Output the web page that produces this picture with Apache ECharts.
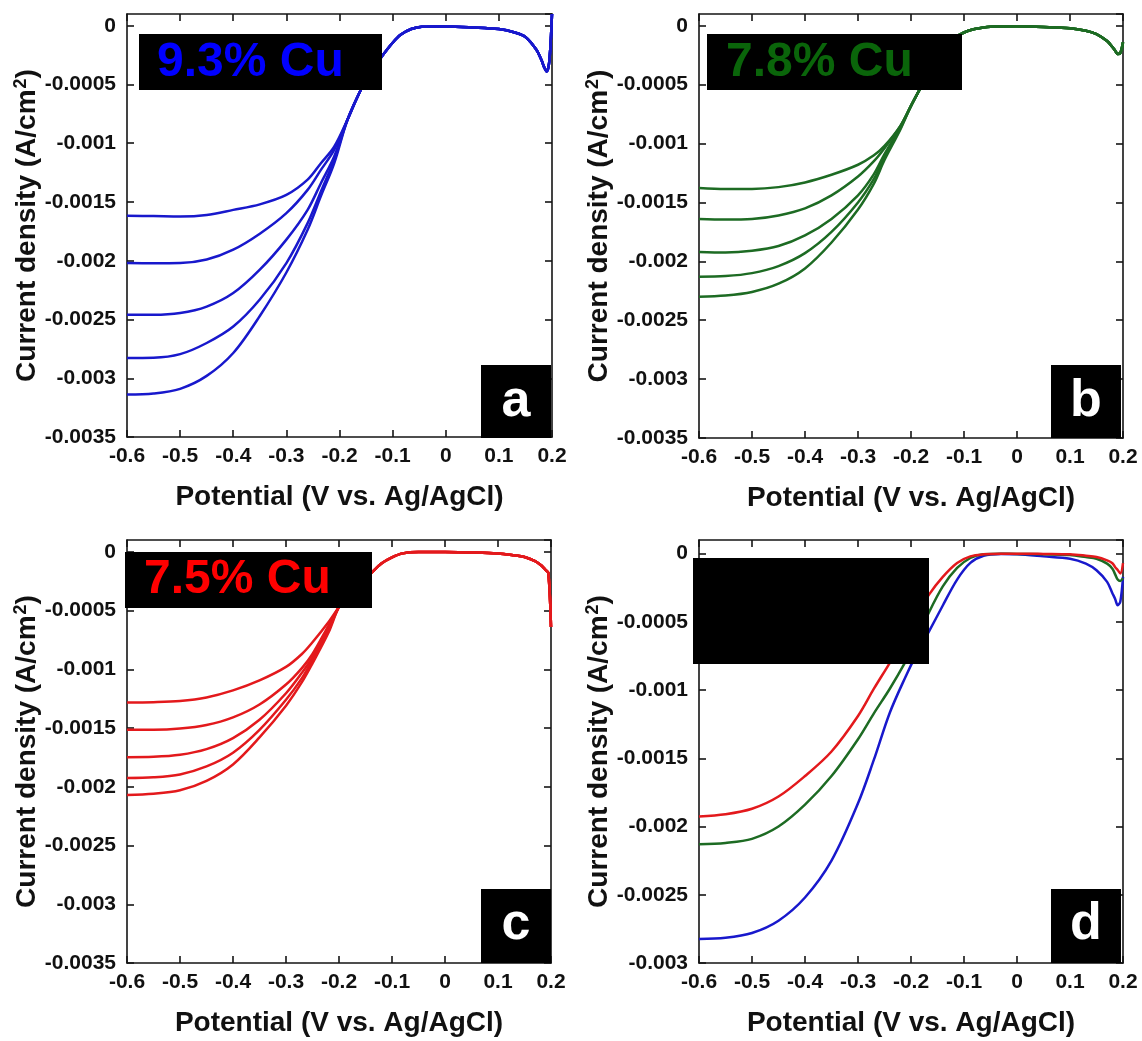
<!DOCTYPE html>
<html>
<head>
<meta charset="utf-8">
<script src="https://cdn.jsdelivr.net/npm/echarts@6/dist/echarts.min.js"></script>
<style>
  html, body { margin: 0; padding: 0; background: #ffffff; }
  #chart { width: 1142px; height: 1041px; }
</style>
</head>
<body>
<div id="chart"></div>
<script>
// ---- Data (current density in mA/cm^2, converted to A/cm^2 when plotted) ----
const xTicks = [-0.6, -0.5, -0.4, -0.3, -0.2, -0.1, 0, 0.1, 0.2];
const panelLetters = ['a', 'b', 'c', 'd'];
const panelLabels = ['9.3% Cu', '7.8% Cu', '7.5% Cu', ''];

// Panel a (9.3% Cu)
const potA = [-0.6, -0.55, -0.5, -0.45, -0.4, -0.35, -0.3, -0.26, -0.235, -0.21, -0.185, -0.16, -0.14, -0.12, -0.1, -0.085, -0.065, -0.045, 0, 0.05, 0.1, 0.13, 0.15, 0.17, 0.18, 0.185, 0.19, 0.195, 0.2];
const a1 = [-1.618, -1.62, -1.623, -1.61, -1.567, -1.52, -1.44, -1.31, -1.17, -1.03, -0.8, -0.547, -0.39, -0.26, -0.145, -0.077, -0.028, -0.008, -0.006, -0.014, -0.028, -0.057, -0.095, -0.2, -0.29, -0.35, -0.39, -0.3, 0.1];
const a2 = [-2.02, -2.022, -2.02, -1.99, -1.906, -1.77, -1.595, -1.397, -1.227, -1.057, -0.8, -0.547, -0.39, -0.26, -0.145, -0.077, -0.028, -0.008, -0.006, -0.014, -0.028, -0.057, -0.095, -0.2, -0.29, -0.35, -0.39, -0.3, 0.1];
const a3 = [-2.46, -2.46, -2.445, -2.39, -2.275, -2.076, -1.82, -1.567, -1.34, -1.113, -0.8, -0.547, -0.39, -0.26, -0.145, -0.077, -0.028, -0.008, -0.006, -0.014, -0.028, -0.057, -0.095, -0.2, -0.29, -0.35, -0.39, -0.3, 0.1];
const a4 = [-2.827, -2.825, -2.795, -2.7, -2.56, -2.33, -2.02, -1.68, -1.41, -1.14, -0.8, -0.547, -0.39, -0.26, -0.145, -0.077, -0.028, -0.008, -0.006, -0.014, -0.028, -0.057, -0.095, -0.2, -0.29, -0.35, -0.39, -0.3, 0.1];
const a5 = [-3.139, -3.13, -3.09, -2.98, -2.785, -2.47, -2.1, -1.737, -1.45, -1.17, -0.8, -0.547, -0.39, -0.26, -0.145, -0.077, -0.028, -0.008, -0.006, -0.014, -0.028, -0.057, -0.095, -0.2, -0.29, -0.35, -0.39, -0.3, 0.1];

// Panel b (7.8% Cu)
const potB = [-0.6, -0.55, -0.5, -0.45, -0.4, -0.35, -0.3, -0.27, -0.25, -0.22, -0.2, -0.18, -0.16, -0.14, -0.12, -0.1, -0.08, -0.05, 0, 0.05, 0.1, 0.13, 0.15, 0.17, 0.18, 0.185, 0.19, 0.195, 0.2];
const b1 = [-1.377, -1.385, -1.385, -1.37, -1.33, -1.265, -1.18, -1.10, -1.02, -0.85, -0.68, -0.51, -0.34, -0.21, -0.11, -0.057, -0.028, -0.008, -0.005, -0.01, -0.02, -0.042, -0.07, -0.13, -0.18, -0.21, -0.24, -0.23, -0.14];
const b2 = [-1.64, -1.645, -1.64, -1.61, -1.55, -1.44, -1.28, -1.15, -1.04, -0.85, -0.68, -0.51, -0.34, -0.21, -0.11, -0.057, -0.028, -0.008, -0.005, -0.01, -0.02, -0.042, -0.07, -0.13, -0.18, -0.21, -0.24, -0.23, -0.14];
const b3 = [-1.92, -1.925, -1.91, -1.87, -1.78, -1.64, -1.44, -1.26, -1.09, -0.86, -0.68, -0.51, -0.34, -0.21, -0.11, -0.057, -0.028, -0.008, -0.005, -0.01, -0.02, -0.042, -0.07, -0.13, -0.18, -0.21, -0.24, -0.23, -0.14];
const b4 = [-2.13, -2.125, -2.1, -2.04, -1.93, -1.75, -1.5, -1.3, -1.12, -0.87, -0.68, -0.51, -0.34, -0.21, -0.11, -0.057, -0.028, -0.008, -0.005, -0.01, -0.02, -0.042, -0.07, -0.13, -0.18, -0.21, -0.24, -0.23, -0.14];
const b5 = [-2.30, -2.29, -2.26, -2.19, -2.06, -1.84, -1.56, -1.34, -1.14, -0.88, -0.68, -0.51, -0.34, -0.21, -0.11, -0.057, -0.028, -0.008, -0.005, -0.01, -0.02, -0.042, -0.07, -0.13, -0.18, -0.21, -0.24, -0.23, -0.14];

// Panel c (7.5% Cu)
const potC = [-0.6, -0.55, -0.5, -0.45, -0.4, -0.35, -0.3, -0.27, -0.25, -0.22, -0.2, -0.18, -0.16, -0.14, -0.12, -0.1, -0.08, -0.05, 0, 0.05, 0.1, 0.13, 0.15, 0.17, 0.18, 0.185, 0.19, 0.195, 0.2];
const c1 = [-1.283, -1.28, -1.27, -1.24, -1.18, -1.095, -0.98, -0.87, -0.77, -0.6, -0.47, -0.35, -0.255, -0.184, -0.1, -0.048, -0.014, -0.003, -0.003, -0.006, -0.014, -0.03, -0.045, -0.08, -0.11, -0.13, -0.156, -0.18, -0.64];
const c2 = [-1.515, -1.515, -1.505, -1.475, -1.41, -1.30, -1.13, -0.99, -0.87, -0.63, -0.47, -0.35, -0.255, -0.184, -0.1, -0.048, -0.014, -0.003, -0.003, -0.006, -0.014, -0.03, -0.045, -0.08, -0.11, -0.13, -0.156, -0.18, -0.64];
const c3 = [-1.748, -1.745, -1.728, -1.68, -1.586, -1.43, -1.204, -1.03, -0.9, -0.65, -0.47, -0.35, -0.255, -0.184, -0.1, -0.048, -0.014, -0.003, -0.003, -0.006, -0.014, -0.03, -0.045, -0.08, -0.11, -0.13, -0.156, -0.18, -0.64];
const c4 = [-1.926, -1.92, -1.895, -1.827, -1.71, -1.516, -1.26, -1.076, -0.92, -0.67, -0.47, -0.35, -0.255, -0.184, -0.1, -0.048, -0.014, -0.003, -0.003, -0.006, -0.014, -0.03, -0.045, -0.08, -0.11, -0.13, -0.156, -0.18, -0.64];
const c5 = [-2.07, -2.06, -2.03, -1.95, -1.81, -1.58, -1.31, -1.11, -0.95, -0.69, -0.47, -0.35, -0.255, -0.184, -0.1, -0.048, -0.014, -0.003, -0.003, -0.006, -0.014, -0.03, -0.045, -0.08, -0.11, -0.13, -0.156, -0.18, -0.64];

// Panel d (comparison)
const potD = [-0.6, -0.55, -0.5, -0.45, -0.4, -0.35, -0.3, -0.27, -0.24, -0.21, -0.19, -0.166, -0.14, -0.113, -0.088, -0.063, -0.03, 0, 0.05, 0.1, 0.13, 0.15, 0.17, 0.18, 0.185, 0.19, 0.195, 0.2];
const dRed = [-1.927, -1.91, -1.87, -1.78, -1.63, -1.45, -1.19, -0.99, -0.8, -0.6, -0.46, -0.3, -0.17, -0.068, -0.02, -0.005, 0, 0, -0.002, -0.005, -0.015, -0.024, -0.049, -0.07, -0.098, -0.12, -0.146, -0.07];
const dGreen = [-2.13, -2.12, -2.09, -2.0, -1.84, -1.63, -1.36, -1.17, -0.99, -0.79, -0.64, -0.43, -0.24, -0.105, -0.032, -0.005, -0.001, -0.002, -0.005, -0.01, -0.025, -0.037, -0.073, -0.11, -0.15, -0.19, -0.2, -0.18];
const dBlue = [-2.824, -2.815, -2.78, -2.69, -2.52, -2.25, -1.83, -1.51, -1.166, -0.9, -0.74, -0.57, -0.38, -0.19, -0.068, -0.015, -0.003, -0.005, -0.02, -0.037, -0.073, -0.122, -0.207, -0.29, -0.33, -0.378, -0.35, -0.17];

// y-axis ranges (A/cm^2)
const yMinABC = -0.0035;
const yMinD = -0.003;
const yMax = 0.0001;
const yStep = 0.0005;

// ---- Styling / layout ----
const FONT = "'Liberation Sans', Arial, Helvetica, sans-serif";
const BLUE = '#1818cc', GREEN = '#1d6b23', RED = '#e3191c';
const TXT_BLUE = '#0000ff', TXT_GREEN = '#0a650a', TXT_RED = '#ff0000';
const grids = [
  { left: 127, top: 14, width: 425, height: 423 },
  { left: 699, top: 14, width: 424, height: 424 },
  { left: 127, top: 540, width: 424, height: 423 },
  { left: 699, top: 540, width: 424, height: 423 }
];

const toA = v => v * 1e-3;
const pairs = (pot, cur) => pot.map((p, i) => [p, toA(cur[i])]);

const axisLineStyle = { color: '#151515', width: 1.6 };
const xAxes = [], yAxes = [];
grids.forEach((g, i) => {
  const yMin = i === 3 ? yMinD : yMinABC;
  const common = {
    gridIndex: i, type: 'value',
    splitLine: { show: false },
    axisLine: { show: true, onZero: false, lineStyle: axisLineStyle },
    axisTick: { show: true, inside: true, length: 7, lineStyle: axisLineStyle }
  };
  xAxes.push(Object.assign({}, common, {
    position: 'bottom', min: -0.6, max: 0.2, interval: 0.1,
    axisLabel: { show: true, margin: 9, color: '#111', fontSize: 21, fontWeight: 'bold', fontFamily: FONT,
      formatter: v => String(+(+v).toFixed(1)) },
    name: 'Potential (V vs. Ag/AgCl)', nameLocation: 'middle', nameGap: 46,
    nameTextStyle: { color: '#111', fontSize: 28, fontWeight: 'bold', fontFamily: FONT }
  }));
  xAxes.push(Object.assign({}, common, {
    position: 'top', min: -0.6, max: 0.2, interval: 0.1, axisLabel: { show: false }
  }));
  yAxes.push(Object.assign({}, common, {
    position: 'left', min: yMin, max: yMax, interval: yStep,
    axisLabel: { show: true, margin: 11, color: '#111', fontSize: 21, fontWeight: 'bold', fontFamily: FONT,
      showMaxLabel: false, formatter: v => String(+(+v).toFixed(4)) },
    name: 'Current density (A/cm{sup|2})', nameLocation: 'middle', nameGap: 84,
    nameTextStyle: { color: '#111', fontSize: 28, fontWeight: 'bold', fontFamily: FONT,
      rich: { sup: { fontSize: 18, fontWeight: 'bold', fontFamily: FONT, color: '#111', verticalAlign: 'top', padding: [0, 0, 12, 1] } } }
  }));
  yAxes.push(Object.assign({}, common, {
    position: 'right', min: yMin, max: yMax, interval: yStep, axisLabel: { show: false }
  }));
});

function lineSeries(gi, pot, cur, color) {
  return {
    type: 'line', xAxisIndex: gi * 2, yAxisIndex: gi * 2,
    data: pairs(pot, cur), showSymbol: false, symbol: 'none',
    smooth: 0.33,
    lineStyle: { color: color, width: 2.5 }, z: 2, silent: true
  };
}

const series = [
  lineSeries(0, potA, a1, BLUE), lineSeries(0, potA, a2, BLUE), lineSeries(0, potA, a3, BLUE),
  lineSeries(0, potA, a4, BLUE), lineSeries(0, potA, a5, BLUE),
  lineSeries(1, potB, b1, GREEN), lineSeries(1, potB, b2, GREEN), lineSeries(1, potB, b3, GREEN),
  lineSeries(1, potB, b4, GREEN), lineSeries(1, potB, b5, GREEN),
  lineSeries(2, potC, c1, RED), lineSeries(2, potC, c2, RED), lineSeries(2, potC, c3, RED),
  lineSeries(2, potC, c4, RED), lineSeries(2, potC, c5, RED),
  lineSeries(3, potD, dBlue, BLUE), lineSeries(3, potD, dGreen, GREEN), lineSeries(3, potD, dRed, RED)
];

// annotation boxes (black) with labels
const labelBoxes = [
  { x: 139, y: 34, w: 243, h: 56, tx: 157, ty: 63, color: TXT_BLUE },
  { x: 707, y: 34, w: 255, h: 56, tx: 726, ty: 63, color: TXT_GREEN },
  { x: 125, y: 552, w: 247, h: 56, tx: 144, ty: 580, color: TXT_RED },
  { x: 693, y: 558, w: 236, h: 106, tx: 0, ty: 0, color: '#000' }
];
const letterBoxes = [
  { x: 481, y: 365, w: 70, h: 73, ty: 402 },
  { x: 1051, y: 365, w: 70, h: 73, ty: 402 },
  { x: 481, y: 889, w: 70, h: 74, ty: 925 },
  { x: 1051, y: 889, w: 70, h: 74, ty: 925 }
];

const graphic = [];
labelBoxes.forEach((b, i) => {
  graphic.push({ type: 'rect', shape: { x: b.x, y: b.y, width: b.w, height: b.h }, style: { fill: '#000' }, z: 100, silent: true });
  if (panelLabels[i]) {
    graphic.push({ type: 'text', z: 101, silent: true, x: b.tx, y: b.ty,
      style: { text: panelLabels[i], fill: b.color, font: 'bold 48px ' + FONT,
        textAlign: 'left', textVerticalAlign: 'middle', align: 'left', verticalAlign: 'middle' } });
  }
});
letterBoxes.forEach((b, i) => {
  graphic.push({ type: 'rect', shape: { x: b.x, y: b.y, width: b.w, height: b.h }, style: { fill: '#000' }, z: 100, silent: true });
  graphic.push({ type: 'text', z: 101, silent: true, x: b.x + b.w / 2, y: b.ty,
    style: { text: panelLetters[i], fill: '#fff', font: 'bold 52px ' + FONT,
      textAlign: 'center', textVerticalAlign: 'middle', align: 'center', verticalAlign: 'middle' } });
});

const chart = echarts.init(document.getElementById('chart'), null, { renderer: 'canvas' });
chart.setOption({
  backgroundColor: '#ffffff',
  animation: false,
  grid: grids,
  xAxis: xAxes,
  yAxis: yAxes,
  series: series,
  graphic: graphic
});
</script>
</body>
</html>
